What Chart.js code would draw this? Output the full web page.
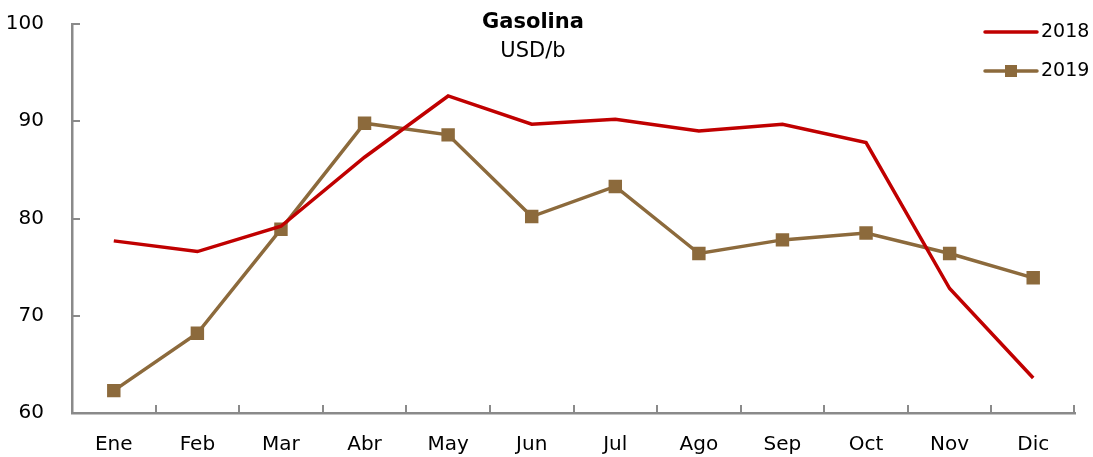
<!DOCTYPE html>
<html>
<head>
<meta charset="utf-8">
<script src="https://cdn.jsdelivr.net/npm/chart.js@4/dist/chart.umd.min.js"></script>
<style>
  html, body { margin: 0; padding: 0; background: #fff; }
  #wrap { width: 1093px; height: 457px; position: relative; }
</style>
</head>
<body>
<div id="wrap"><canvas id="chart"></canvas></div>
<script>
const months = ["Ene", "Feb", "Mar", "Abr", "May", "Jun", "Jul", "Ago", "Sep", "Oct", "Nov", "Dic"];
const values2018 = [77.7, 76.6, 79.2, 86.3, 92.6, 89.7, 90.2, 89.0, 89.7, 87.8, 72.8, 63.6];
const values2019 = [62.3, 68.2, 78.9, 89.8, 88.6, 80.2, 83.3, 76.4, 77.8, 78.5, 76.4, 73.9];
const yTicks = [60, 70, 80, 90, 100];

const FONT = "'DejaVu Sans', sans-serif";
const AXIS = "#8a8a8a";
const RED = "#c00000";
const BROWN = "#8c6a3c";

// marcas de eje hacia dentro, titulo y leyenda
const overlay = {
  id: "overlay",
  afterDraw(chart) {
    const ctx = chart.ctx;
    const x = chart.scales.x;
    const y = chart.scales.y;
    const area = chart.chartArea;
    ctx.save();
    ctx.strokeStyle = AXIS;
    ctx.lineWidth = 2;
    ctx.beginPath();
    yTicks.forEach((v) => {
      const py = Math.round(y.getPixelForValue(v));
      ctx.moveTo(area.left, py);
      ctx.lineTo(area.left + 8, py);
    });
    for (let i = 1; i <= months.length; i++) {
      const px = Math.round(i < months.length
        ? (x.getPixelForValue(i - 1) + x.getPixelForValue(i)) / 2
        : area.right - 1);
      ctx.moveTo(px, area.bottom);
      ctx.lineTo(px, area.bottom - 8);
    }
    ctx.stroke();

    ctx.fillStyle = "#000";
    ctx.textAlign = "center";
    ctx.textBaseline = "middle";
    ctx.font = "bold 21px " + FONT;
    ctx.fillText("Gasolina", 533, 23);
    ctx.font = "21px " + FONT;
    ctx.fillText("USD/b", 533, 52);

    // leyenda
    ctx.lineWidth = 3.5;
    ctx.lineCap = "round";
    ctx.strokeStyle = RED;
    ctx.beginPath();
    ctx.moveTo(985, 32);
    ctx.lineTo(1037, 32);
    ctx.stroke();
    ctx.strokeStyle = BROWN;
    ctx.beginPath();
    ctx.moveTo(985, 71);
    ctx.lineTo(1037, 71);
    ctx.stroke();
    ctx.fillStyle = BROWN;
    ctx.fillRect(1005, 65, 12, 12);
    ctx.fillStyle = "#000";
    ctx.textAlign = "left";
    ctx.font = "19px " + FONT;
    ctx.fillText("2018", 1041, 32);
    ctx.fillText("2019", 1041, 71);
    ctx.restore();
  },
};

new Chart(document.getElementById("chart"), {
  type: "line",
  data: {
    labels: months,
    datasets: [
      {
        label: "2018",
        data: values2018,
        borderColor: RED,
        backgroundColor: RED,
        borderWidth: 3.5,
        pointRadius: 0,
        tension: 0,
      },
      {
        label: "2019",
        data: values2019,
        borderColor: BROWN,
        backgroundColor: BROWN,
        borderWidth: 3.5,
        pointStyle: "rect",
        pointRadius: 9.5,
        pointBorderWidth: 0,
        tension: 0,
      },
    ],
  },
  options: {
    responsive: true,
    maintainAspectRatio: false,
    animation: false,
    layout: {
      padding: { top: 24, right: 18, left: 0, bottom: 0 },
    },
    plugins: {
      legend: { display: false },
      tooltip: { enabled: false },
    },
    scales: {
      x: {
        offset: true,
        grid: { display: false },
        border: { display: true, color: AXIS, width: 2.5 },
        ticks: {
          color: "#000",
          font: { family: FONT, size: 20 },
          padding: 12,
        },
        afterFit: (s) => { s.height = 44; },
      },
      y: {
        min: 60,
        max: 100,
        grid: { display: false },
        border: { display: true, color: AXIS, width: 2.5 },
        afterBuildTicks: (s) => { s.ticks = yTicks.map((v) => ({ value: v })); },
        ticks: {
          color: "#000",
          font: { family: FONT, size: 20 },
          padding: 20,
        },
        afterFit: (s) => {
          s.width = 72;
          s.paddingTop = 0;
          s.paddingBottom = 0;
        },
      },
    },
  },
  plugins: [overlay],
});
</script>
</body>
</html>
